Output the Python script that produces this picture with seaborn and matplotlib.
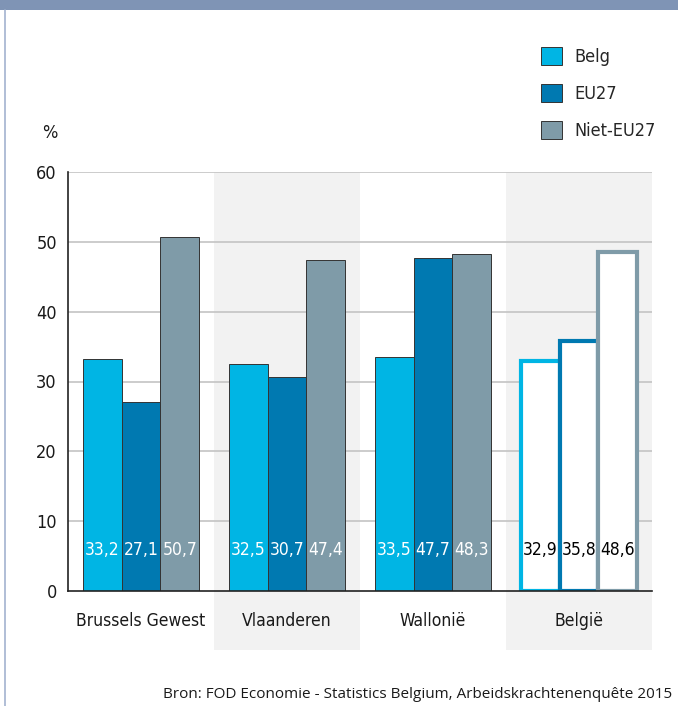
import pandas as pd
import seaborn as sns
import matplotlib.pyplot as plt
from matplotlib.patches import Patch, Rectangle
import matplotlib.transforms as mtransforms

regions = ["Brussels Gewest", "Vlaanderen", "Wallonië", "België"]
groups = ["Belg", "EU27", "Niet-EU27"]
belg = [33.2, 32.5, 33.5, 32.9]
eu27 = [27.1, 30.7, 47.7, 35.8]
niet_eu27 = [50.7, 47.4, 48.3, 48.6]
y_ticks = [0, 10, 20, 30, 40, 50, 60]

colors = {"Belg": "#00b5e4", "EU27": "#0079b1", "Niet-EU27": "#7f9ba8"}

df = pd.DataFrame({
    "regio": regions * 3,
    "groep": [g for g in groups for _ in regions],
    "waarde": belg + eu27 + niet_eu27,
})

sns.set_style("white")
plt.rcParams["font.family"] = ["DejaVu Sans"]
plt.rcParams["font.stretch"] = "condensed"

fig = plt.figure(figsize=(6.78, 7.06), dpi=100)
ax = fig.add_axes([68 / 678, 1 - 591 / 706, 584 / 678, 419 / 706])

# achtergrondbanden voor Vlaanderen en België (lopen door tot onder de labels)
trans = mtransforms.blended_transform_factory(ax.transData, ax.transAxes)
for i in (1, 3):
    ax.add_patch(Rectangle((i - 0.5, -0.14), 1, 1.14, transform=trans,
                           facecolor="#f2f2f2", edgecolor="none",
                           clip_on=False, zorder=0))

for y in y_ticks[1:]:
    ax.axhline(y, color="#c4c4c4", lw=1.2, zorder=1)

sns.barplot(data=df, x="regio", y="waarde", hue="groep", order=regions,
            hue_order=groups, palette=colors, saturation=1, ax=ax, legend=False,
            edgecolor="#333333", linewidth=0.7, zorder=2)

# België: witte balken met gekleurde rand
bars = [p for p in ax.patches if isinstance(p, Rectangle) and p.get_zorder() == 2]
for k, g in enumerate(groups):
    bar = bars[k * len(regions) + 3]
    bar.set_facecolor("white")
    bar.set_edgecolor(colors[g])
    bar.set_linewidth(3)

vals = [belg, eu27, niet_eu27]
for k, g in enumerate(groups):
    for i, r in enumerate(regions):
        x = i + (k - 1) * 0.8 / 3
        col = "black" if r == "België" else "white"
        ax.text(x, 5.9, f"{vals[k][i]:.1f}".replace(".", ","), ha="center",
                va="center", color=col, fontsize=12.5, zorder=4)

ax.set_xlim(-0.5, 3.5)
ax.set_ylim(0, 60)
ax.set_yticks(y_ticks)
ax.set_xlabel("")
ax.set_ylabel("")
ax.tick_params(axis="both", labelsize=13, length=0, colors="#1a1a1a")
ax.tick_params(axis="x", labelsize=12.5, pad=15)
ax.tick_params(axis="y", pad=8)
for s in ["top", "right"]:
    ax.spines[s].set_visible(False)
for s in ["left", "bottom"]:
    ax.spines[s].set_color("#222222")
    ax.spines[s].set_linewidth(1.2)
    ax.spines[s].set_zorder(3)

fig.text(50 / 678, 1 - 133 / 706, "%", fontsize=13, ha="center", va="center",
         color="#1a1a1a")

handles = [Patch(facecolor=colors[g], edgecolor="#333333", linewidth=0.7) for g in groups]
fig.legend(handles, groups, loc="upper left", bbox_to_anchor=(532 / 678, 1 - 38 / 706),
           frameon=False, fontsize=13, handlelength=1.15, handleheight=1.15,
           labelspacing=1.0, handletextpad=0.7, borderpad=0)

# bovenbalk en linkerrand
fig.patches.append(Rectangle((0, 1 - 10 / 706), 1, 10 / 706, transform=fig.transFigure,
                             facecolor="#7f94b5", edgecolor="none"))
fig.lines.append(plt.Line2D([5 / 678, 5 / 678], [0, 1 - 10 / 706], transform=fig.transFigure,
                            color="#a3b3cf", lw=1.2))

fig.text(672 / 678, 1 - 694 / 706,
         "Bron: FOD Economie - Statistics Belgium, Arbeidskrachtenenquête 2015",
         ha="right", va="center", fontsize=11, family=["Open Sans", "DejaVu Sans"],
         stretch="normal", color="#1a1a1a")

fig.savefig("out.png", dpi=100)
